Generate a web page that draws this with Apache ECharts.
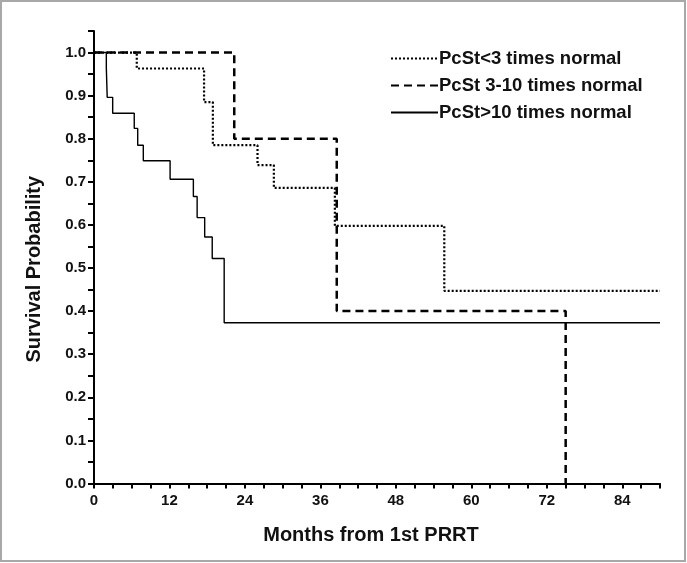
<!DOCTYPE html>
<html>
<head>
<meta charset="utf-8">
<script src="https://cdn.jsdelivr.net/npm/echarts@6/dist/echarts.min.js"></script>
<style>html,body{margin:0;padding:0;background:#fff}#c{width:687px;height:563px}</style>
</head>
<body>
<div id="c"></div>
<script>
// Series names
var seriesNames = ['PcSt<3 times normal', 'PcSt 3-10 times normal', 'PcSt>10 times normal'];
// Kaplan-Meier step points: months and survival probability
var lowMonths = [0, 6.8, 17.5, 18.9, 26.0, 28.6, 38.3, 55.7, 90];
var lowSurv   = [1.0, 0.963, 0.885, 0.785, 0.739, 0.686, 0.598, 0.447, 0.447];
var midMonths = [0, 22.3, 38.6, 75.0];
var midSurv   = [1.0, 0.800, 0.400, 0.0];
var highMonths = [0, 1.96, 2.1, 2.97, 6.4, 6.95, 7.84, 12.1, 15.8, 16.4, 17.6, 18.8, 20.7, 90];
var highSurv   = [1.0, 0.964, 0.896, 0.859, 0.824, 0.785, 0.749, 0.706, 0.666, 0.617, 0.572, 0.522, 0.373, 0.373];
// Axis settings
var xTickLabels = [0, 12, 24, 36, 48, 60, 72, 84];
var yTickLabels = [0.0, 0.1, 0.2, 0.3, 0.4, 0.5, 0.6, 0.7, 0.8, 0.9, 1.0];

function pairs(xs, ys) { return xs.map(function (x, i) { return [x, ys[i]]; }); }

var font = '"Liberation Sans", Arial, sans-serif';
var chart = echarts.init(document.getElementById('c'));
chart.setOption({
  animation: false,
  backgroundColor: '#fff',
  graphic: [{
    type: 'rect', silent: true,
    shape: { x: 1, y: 1, width: 684, height: 560 },
    style: { fill: 'none', stroke: '#a8a8a8', lineWidth: 2 }
  }],
  grid: { left: 94, right: 27, top: 31, bottom: 79.5, containLabel: false },
  legend: {
    orient: 'vertical', left: 385, top: 44,
    itemWidth: 47, itemHeight: 14, itemGap: 8,
    itemStyle: { opacity: 0 },
    textStyle: { fontFamily: font, fontWeight: 'bold', fontSize: 18.5, color: '#111', padding: [0, 0, 0, -4] },
    data: seriesNames
  },
  xAxis: {
    type: 'value', min: 0, max: 90, interval: 3,
    name: 'Months from 1st PRRT', nameLocation: 'middle', nameGap: 42,
    nameTextStyle: { fontFamily: font, fontWeight: 'bold', fontSize: 20, color: '#111', padding: [0, 12, 0, 0] },
    axisLine: { show: true, lineStyle: { color: '#000', width: 2 } },
    axisTick: { show: true, length: 5, lineStyle: { color: '#000', width: 2 } },
    splitLine: { show: false },
    axisLabel: {
      margin: 10, fontFamily: font, fontWeight: 'bold', fontSize: 15, color: '#111',
      formatter: function (v) { return xTickLabels.indexOf(Math.round(v)) >= 0 && Math.abs(v - Math.round(v)) < 1e-6 ? String(Math.round(v)) : ''; }
    }
  },
  yAxis: {
    type: 'value', min: 0, max: 1.05, interval: 0.05,
    name: 'Survival Probability', nameLocation: 'middle', nameGap: 50,
    nameTextStyle: { fontFamily: font, fontWeight: 'bold', fontSize: 20, color: '#111', padding: [0, 24, 0, 0] },
    axisLine: { show: true, lineStyle: { color: '#000', width: 2 } },
    axisTick: { show: true, length: 6, lineStyle: { color: '#000', width: 2 } },
    splitLine: { show: false },
    axisLabel: {
      margin: 8, fontFamily: font, fontWeight: 'bold', fontSize: 15, color: '#111',
      formatter: function (v) {
        var r = Math.round(v * 10) / 10;
        if (Math.abs(v - r) > 1e-6) return '';
        return yTickLabels.indexOf(r) >= 0 ? r.toFixed(1) : '';
      }
    }
  },
  series: [
    { name: seriesNames[0], type: 'line', step: 'end', symbol: 'none', clip: false, z: 3,
      data: pairs(lowMonths, lowSurv),
      lineStyle: { color: '#000', width: 2.2, type: [2, 2] }, itemStyle: { color: '#000' } },
    { name: seriesNames[1], type: 'line', step: 'end', symbol: 'none', clip: false, z: 4,
      data: pairs(midMonths, midSurv),
      lineStyle: { color: '#000', width: 2.5, type: [8, 5] }, itemStyle: { color: '#000' } },
    { name: seriesNames[2], type: 'line', step: 'end', symbol: 'none', clip: false, z: 2,
      data: pairs(highMonths, highSurv),
      lineStyle: { color: '#000', width: 1.4, type: 'solid' }, itemStyle: { color: '#000' } }
  ]
});
</script>
</body>
</html>
